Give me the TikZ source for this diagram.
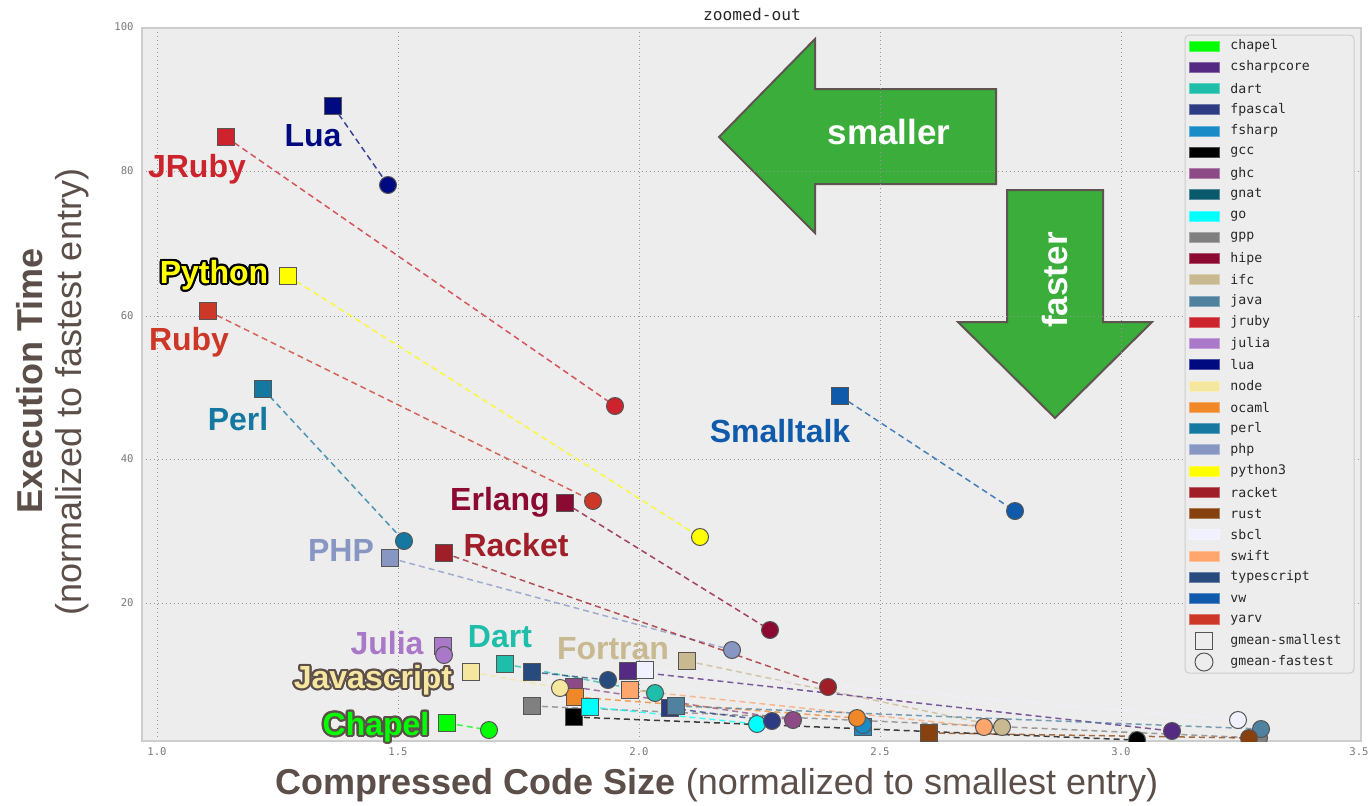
\documentclass[tikz,border=0pt]{standalone}
\usepackage{fontspec}
\setmainfont{Liberation Sans}
\newfontfamily\monofont{DejaVu Sans Mono}
\usetikzlibrary{calc}
\pgfdeclarelayer{bg}
\pgfdeclarelayer{lines}
\pgfsetlayers{bg,lines,main}
\definecolor{c-chapel}{RGB}{0,255,0}
\definecolor{c-csharpcore}{RGB}{85,42,130}
\definecolor{c-dart}{RGB}{30,190,170}
\definecolor{c-fpascal}{RGB}{45,60,130}
\definecolor{c-fsharp}{RGB}{25,140,200}
\definecolor{c-gcc}{RGB}{0,0,0}
\definecolor{c-ghc}{RGB}{140,75,135}
\definecolor{c-gnat}{RGB}{10,90,110}
\definecolor{c-go}{RGB}{0,255,255}
\definecolor{c-gpp}{RGB}{128,128,128}
\definecolor{c-hipe}{RGB}{140,10,50}
\definecolor{c-ifc}{RGB}{200,185,145}
\definecolor{c-java}{RGB}{80,130,160}
\definecolor{c-jruby}{RGB}{205,35,45}
\definecolor{c-julia}{RGB}{170,120,200}
\definecolor{c-lua}{RGB}{0,10,128}
\definecolor{c-node}{RGB}{245,230,160}
\definecolor{c-ocaml}{RGB}{240,135,40}
\definecolor{c-perl}{RGB}{20,120,160}
\definecolor{c-php}{RGB}{135,150,195}
\definecolor{c-python3}{RGB}{255,255,0}
\definecolor{c-racket}{RGB}{160,30,40}
\definecolor{c-rust}{RGB}{135,65,15}
\definecolor{c-sbcl}{RGB}{240,240,255}
\definecolor{c-swift}{RGB}{255,165,110}
\definecolor{c-typescript}{RGB}{40,75,125}
\definecolor{c-vw}{RGB}{15,90,170}
\definecolor{c-yarv}{RGB}{205,55,40}
\definecolor{plotbg}{RGB}{237,237,237}
\definecolor{frameclr}{RGB}{205,205,205}
\definecolor{gridclr}{RGB}{150,150,150}
\definecolor{mkborder}{RGB}{85,85,85}
\definecolor{axisclr}{RGB}{92,78,72}
\definecolor{arrowgreen}{RGB}{58,173,58}
\definecolor{arrowedge}{RGB}{95,85,80}
\definecolor{tickclr}{RGB}{120,120,120}
\definecolor{txtclr}{RGB}{40,40,40}
\newcommand\olabel[5]{%
  \foreach \oa in {0,22.5,...,337.5}{\node[lbl=#5] at ($(#2)+(\oa:1.1pt)$) {#3};}
  \node[lbl=#4] (#1) at (#2) {#3};}
\begin{document}
\begin{tikzpicture}[x=0.5pt,y=-0.5pt,
  sqmark/.style={draw=mkborder,line width=0.5pt,minimum size=8.3pt,inner sep=0pt,fill=#1},
  cimark/.style={circle,draw=mkborder,line width=0.5pt,minimum size=8.5pt,inner sep=0pt,fill=#1},
  conn/.style={draw=#1,draw opacity=.75,line width=.75pt,dash pattern=on 3pt off 2pt},
  lbl/.style={font=\fontsize{16}{19}\selectfont\bfseries,inner sep=0pt,text=#1},
  ticklbl/.style={font=\monofont\fontsize{5.3}{6}\selectfont,text=tickclr,inner sep=0pt},
  legtext/.style={font=\monofont\fontsize{6.6}{8}\selectfont,text=txtclr,inner sep=0pt,anchor=west},
  swatch/.style={draw=#1!70!white,line width=.3pt,fill=#1,minimum width=15pt,minimum height=5pt,inner sep=0pt},
  bigarrow/.style={fill=arrowgreen,draw=arrowedge,line width=1pt,line join=miter},
  arrowtext/.style={font=\fontsize{17.5}{20}\selectfont\bfseries,text=white,inner sep=0pt},
  axlbl/.style={text=axisclr,inner sep=0pt,font=\fontsize{18}{21}\selectfont}]
\useasboundingbox (0,0) rectangle (1371,805);
% plot area
\begin{pgfonlayer}{bg}
\fill[plotbg] (142,28) rectangle (1361,741);
\draw[bigarrow] (719,137) -- (815,39) -- (815,89) -- (996,89) -- (996,184) -- (815,184) -- (815,233) -- cycle;
\draw[bigarrow] (1007,190) -- (1103,190) -- (1103,322) -- (1152,322) -- (1055,418) -- (958,322) -- (1007,322) -- cycle;
\foreach \gx in {157,398,639,880,1121}{\draw[gridclr,line width=.5pt,dash pattern=on .6pt off 1.4pt] (\gx,28) -- (\gx,741);}
\foreach \gy in {171,316,459,603}{\draw[gridclr,line width=.5pt,dash pattern=on .6pt off 1.4pt] (142,\gy) -- (1361,\gy);}
\draw[frameclr,line width=.8pt] (142,28) rectangle (1361,741);
\end{pgfonlayer}
\node[arrowtext] (tsmaller) at (889,132) {smaller};
\node[arrowtext,rotate=90] (tfaster) at (1055,280) {faster};
% title and ticks
\node[font=\monofont\fontsize{8.1}{10}\selectfont,text=txtclr,inner sep=0pt] (title) at (752,14) {zoomed-out};
\foreach \v/\tx in {1.0/157,1.5/398,2.0/639,2.5/880,3.0/1121,3.5/1359}{\node[ticklbl] (xt\tx) at (\tx,752) {\v};}
\foreach \v/\ty in {100/27,80/171,60/316,40/459,20/603}{\node[ticklbl,anchor=east] (yt\v) at (134,\ty) {\v};}
% axis labels
\node[axlbl] (xlabel) at (717,785) {\textbf{Compressed Code Size} (normalized to smallest entry)};
\node[axlbl,rotate=90] (ylabel1) at (30,381) {\textbf{Execution Time}};
\node[axlbl,rotate=90] (ylabel2) at (72,392) {(normalized to fastest entry)};
% markers
\begin{scope}
\clip (142,28) rectangle (1361,741);
\foreach \n/\x/\y in {lua/333/106,jruby/226/137,python3/288/276,yarv/208/311,perl/263/389,php/390/558,racket/444/553,hipe/565/503,vw/840/396,julia/443/646,dart/505/664,ifc/687/661,node/471/672,chapel/447/723,typescript/532/672,csharpcore/628/671,sbcl/645/670,ghc/574/687,ocaml/575/697,gpp/532/706,gcc/574/717,go/590/707,swift/630/690,fpascal/670/708,java/676/706,fsharp/863/727,rust/929/733}
  {\node[sqmark=c-\n] (s-\n) at (\x,\y) {};}
\foreach \n/\x/\y in {lua/388/185,jruby/615/406,python3/700/537,yarv/593/501,perl/404/541,php/732/650,racket/828/687,hipe/770/630,vw/1015/511,julia/444/655,dart/655/693,node/560/688,chapel/489/730,typescript/608/680,csharpcore/1172/731,sbcl/1238/720,go/757/724,fpascal/772/721,ghc/793/720,fsharp/863/725,ocaml/857/718,swift/984/727,ifc/1002/727,gcc/1137/740,gpp/1259/738,java/1261/729,rust/1249/738}
  {\node[cimark=c-\n] (c-\n) at (\x,\y) {};}
\end{scope}
% connectors
\begin{pgfonlayer}{lines}
\foreach \n in {lua,jruby,python3,yarv,perl,php,racket,hipe,vw,julia,dart,ifc,node,chapel,typescript,csharpcore,sbcl,ghc,ocaml,gpp,gcc,go,swift,fpascal,java,fsharp,rust}
  {\draw[conn=c-\n] (s-\n.center) -- (c-\n.center);}
\end{pgfonlayer}
% language labels
\node[lbl=c-lua] (l-lua) at (313,136) {Lua};
\node[lbl=c-jruby] (l-jruby) at (197,169) {JRuby};
\olabel{l-python}{214,275}{Python}{c-python3}{black}
\node[lbl=c-yarv] (l-ruby) at (189,342) {Ruby};
\node[lbl=c-perl] (l-perl) at (238,419) {Perl};
\node[lbl=c-php] (l-php) at (341,550) {PHP};
\node[lbl=c-hipe] (l-erlang) at (500,502) {Erlang};
\node[lbl=c-racket] (l-racket) at (516,545) {Racket};
\node[lbl=c-vw] (l-smalltalk) at (780,431) {Smalltalk};
\node[lbl=c-julia] (l-julia) at (387,643) {Julia};
\node[lbl=c-dart] (l-dart) at (500,637) {Dart};
\node[lbl=c-ifc] (l-fortran) at (613,649) {Fortran};
\olabel{l-javascript}{373,680}{Javascript}{c-node}{axisclr}
\olabel{l-chapel}{376,727}{Chapel}{c-chapel}{axisclr}
% legend
\draw[frameclr,fill=plotbg,rounded corners=2pt,line width=.5pt] (1185,35) rectangle (1354,673);
\foreach \n [count=\i from 0] in {chapel,csharpcore,dart,fpascal,fsharp,gcc,ghc,gnat,go,gpp,hipe,ifc,java,jruby,julia,lua,node,ocaml,perl,php,python3,racket,rust,sbcl,swift,typescript,vw,yarv}
  {\node[swatch=c-\n] (lgs-\n) at (1204,46+21.25*\i) {};
   \node[legtext] (lgt-\n) at (1230,46+21.25*\i) {\n};}
\node[draw=mkborder,line width=.5pt,minimum size=8.5pt,inner sep=0pt] (lgs-smallest) at (1204,641) {};
\node[legtext] (lgt-smallest) at (1230,641) {gmean-smallest};
\node[circle,draw=mkborder,line width=.5pt,minimum size=9pt,inner sep=0pt] (lgs-fastest) at (1204,662) {};
\node[legtext] (lgt-fastest) at (1230,662) {gmean-fastest};
\end{tikzpicture}
\end{document}
